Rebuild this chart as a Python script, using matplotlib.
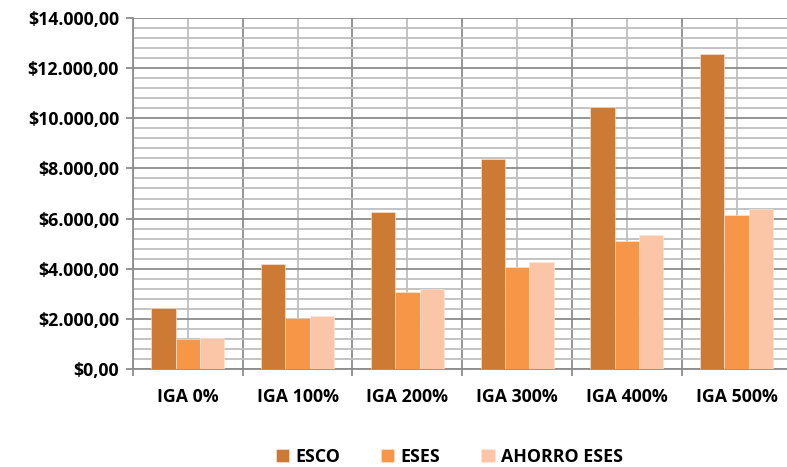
import matplotlib
matplotlib.use("Agg")
import matplotlib.pyplot as plt
from matplotlib.ticker import MultipleLocator, FixedLocator, FuncFormatter
import numpy as np

categories = ["IGA 0%", "IGA 100%", "IGA 200%", "IGA 300%", "IGA 400%", "IGA 500%"]
esco = [2430, 4180, 6275, 8365, 10450, 12550]
eses = [1200, 2035, 3060, 4085, 5120, 6130]
ahorro = [1250, 2115, 3190, 4270, 5335, 6385]
series_names = ["ESCO", "ESES", "AHORRO ESES"]
colors = ["#CD7B34", "#F79646", "#FBC5A8"]

plt.rcParams['font.family'] = ['Open Sans', 'DejaVu Sans']
plt.rcParams['font.weight'] = 'bold'

fig = plt.figure(figsize=(7.87, 4.67), dpi=100)
ax = fig.add_axes([133/787, 1 - 369/467, (787 - 133)/787, (369 - 18)/467])

x = np.arange(len(categories))
w = 0.222
for i, (vals, name, c) in enumerate(zip([esco, eses, ahorro], series_names, colors)):
    ax.bar(x + (i - 1) * w, vals, width=w, color=c, label=name, zorder=3,
           edgecolor='#FDE9DC', linewidth=0.4)

ax.set_ylim(0, 14000)
ax.set_xlim(-0.5, 5.46)
ax.yaxis.set_major_locator(MultipleLocator(2000))
ax.yaxis.set_minor_locator(MultipleLocator(400))

def fmt(v, pos):
    s = f"{v:,.2f}"
    s = s.replace(",", "X").replace(".", ",").replace("X", ".")
    return "$" + s
ax.yaxis.set_major_formatter(FuncFormatter(fmt))

ax.xaxis.set_major_locator(FixedLocator(np.arange(-0.5, 6.0, 1.0)))
ax.set_xticklabels([])
ax.set_xticks(x, minor=True)
ax.set_xticklabels(categories, minor=True, fontweight='bold')

ax.grid(which='major', axis='both', color='#8C8C8C', linewidth=1.3, zorder=0)
ax.grid(which='minor', axis='both', color='#BEBEBE', linewidth=1.3, zorder=0)

for s in ['top', 'right']:
    ax.spines[s].set_visible(False)
for s in ['left', 'bottom']:
    ax.spines[s].set_color('#8C8C8C')
    ax.spines[s].set_linewidth(1.3)

fs = 12.8
ax.tick_params(axis='y', which='major', length=5, color='#8C8C8C', width=1.3,
               labelsize=fs, pad=5)
ax.tick_params(axis='y', which='minor', length=0)
ax.tick_params(axis='x', which='major', length=5, color='#8C8C8C', width=1.3)
ax.tick_params(axis='x', which='minor', length=0, labelsize=fs, pad=14)

leg = fig.legend(loc='center', bbox_to_anchor=(0.571, 1 - 457/467), ncol=3,
                 frameon=False, handlelength=0.75, handleheight=0.75,
                 columnspacing=2.3, handletextpad=0.35,
                 prop={'weight': 'bold', 'size': fs})

fig.savefig("out.png", dpi=100)
